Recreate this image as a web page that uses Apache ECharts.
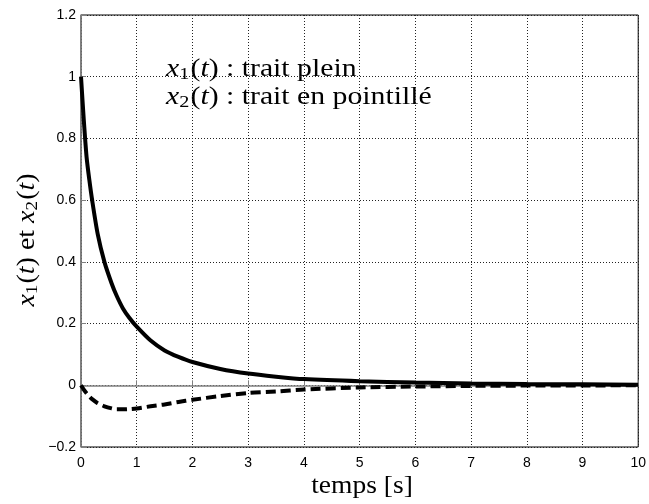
<!DOCTYPE html>
<html>
<head>
<meta charset="utf-8">
<script src="https://cdn.jsdelivr.net/npm/echarts@6/dist/echarts.min.js"></script>
<style>
html,body{margin:0;padding:0;background:#fff;}
#chart{width:649px;height:504px;}
</style>
</head>
<body>
<div id="chart"></div>
<script>
// time samples [s]
const timeValues = [0, 0.05, 0.1, 0.15, 0.2, 0.3, 0.42, 0.55, 0.64, 0.75, 0.87, 1, 1.25, 1.5, 1.75, 2, 2.5, 3, 3.5, 4, 5, 6, 7, 8, 9, 10];
// x1(t) : solid line
const x1Values = [1.0, 0.86, 0.74, 0.665, 0.6, 0.49, 0.4, 0.33, 0.29, 0.25, 0.218, 0.19, 0.145, 0.113, 0.092, 0.0755, 0.053, 0.038, 0.028, 0.02, 0.013, 0.009, 0.006, 0.004, 0.003, 0.002];
// x2(t) : dashed line
const x2Values = [0, -0.014, -0.026, -0.036, -0.045, -0.058, -0.068, -0.075, -0.078, -0.078, -0.077, -0.075, -0.068, -0.062, -0.054, -0.047, -0.035, -0.025, -0.02, -0.014, -0.007, -0.004, -0.002, -0.001, -0.0005, 0];
// axis ranges / ticks
const xRange = [0, 10, 1];
const yRange = [-0.2, 1.2, 0.2];

const pairs = (xs, ys) => xs.map((x, i) => [x, ys[i]]);
const serif = '"Liberation Serif", "DejaVu Serif", serif';
const richBase = {
  m: { fontFamily: serif, fontSize: 25, fontStyle: 'italic', color: '#000' },
  s: { fontFamily: serif, fontSize: 17, color: '#000', padding: [12, 1, 0, 0] },
  n: { fontFamily: serif, fontSize: 25, color: '#000' }
};

const chart = echarts.init(document.getElementById('chart'));
const gridLine = { show: true, lineStyle: { color: '#222', width: 1, type: [1, 2] } };
const tickFmt = v => String(Math.round(v * 10) / 10).replace('-', '\u2212');

chart.setOption({
  animation: false,
  backgroundColor: '#fff',
  grid: { left: 81, right: 10, top: 15, bottom: 57, show: true, borderColor: '#000', borderWidth: 1, backgroundColor: '#fff' },
  xAxis: {
    type: 'value', min: xRange[0], max: xRange[1], interval: xRange[2],
    axisLine: { show: true, lineStyle: { color: '#808080', width: 1.5 } },
    axisTick: { show: true, inside: true, length: 5, lineStyle: { color: '#808080' } },
    axisLabel: { color: '#000', fontFamily: '"Liberation Sans", Arial, sans-serif', fontSize: 14, margin: 9, formatter: tickFmt },
    splitLine: gridLine
  },
  yAxis: {
    type: 'value', min: yRange[0], max: yRange[1], interval: yRange[2],
    axisLine: { show: true, onZero: false, lineStyle: { color: '#808080', width: 1.5 } },
    axisTick: { show: true, inside: true, length: 5, lineStyle: { color: '#808080' } },
    axisLabel: { color: '#000', fontFamily: '"Liberation Sans", Arial, sans-serif', fontSize: 14, margin: 5, formatter: tickFmt },
    splitLine: gridLine
  },
  series: [
    {
      type: 'line', data: pairs(timeValues, x1Values), showSymbol: false,
      smooth: 0.25,
      lineStyle: { color: '#000', width: 4 }
    },
    {
      type: 'line', data: pairs(timeValues, x2Values), showSymbol: false,
      smooth: 0.25,
      lineStyle: { color: '#000', width: 4, type: [10, 5] }
    }
  ],
  graphic: [
    {
      type: 'text', x: 166, y: 69, scaleX: 1.19,
      style: { text: '{m|x}{s|1}{n|(}{m|t}{n|) : trait plein}', rich: richBase, align: 'left', verticalAlign: 'middle' }
    },
    {
      type: 'text', x: 166, y: 97, scaleX: 1.19,
      style: { text: '{m|x}{s|2}{n|(}{m|t}{n|) : trait en pointillé}', rich: richBase, align: 'left', verticalAlign: 'middle' }
    },
    {
      type: 'text', x: 362, y: 486, scaleX: 1.1,
      style: { text: 'temps [s]', fontFamily: serif, fontSize: 25, fill: '#000', align: 'center', verticalAlign: 'middle' }
    },
    {
      type: 'text', x: 27, y: 240, rotation: Math.PI / 2, scaleX: 1.12,
      style: { text: '{m|x}{s|1}{n|(}{m|t}{n|) et }{m|x}{s|2}{n|(}{m|t}{n|)}', rich: richBase, align: 'center', verticalAlign: 'middle' }
    }
  ]
});
</script>
</body>
</html>
